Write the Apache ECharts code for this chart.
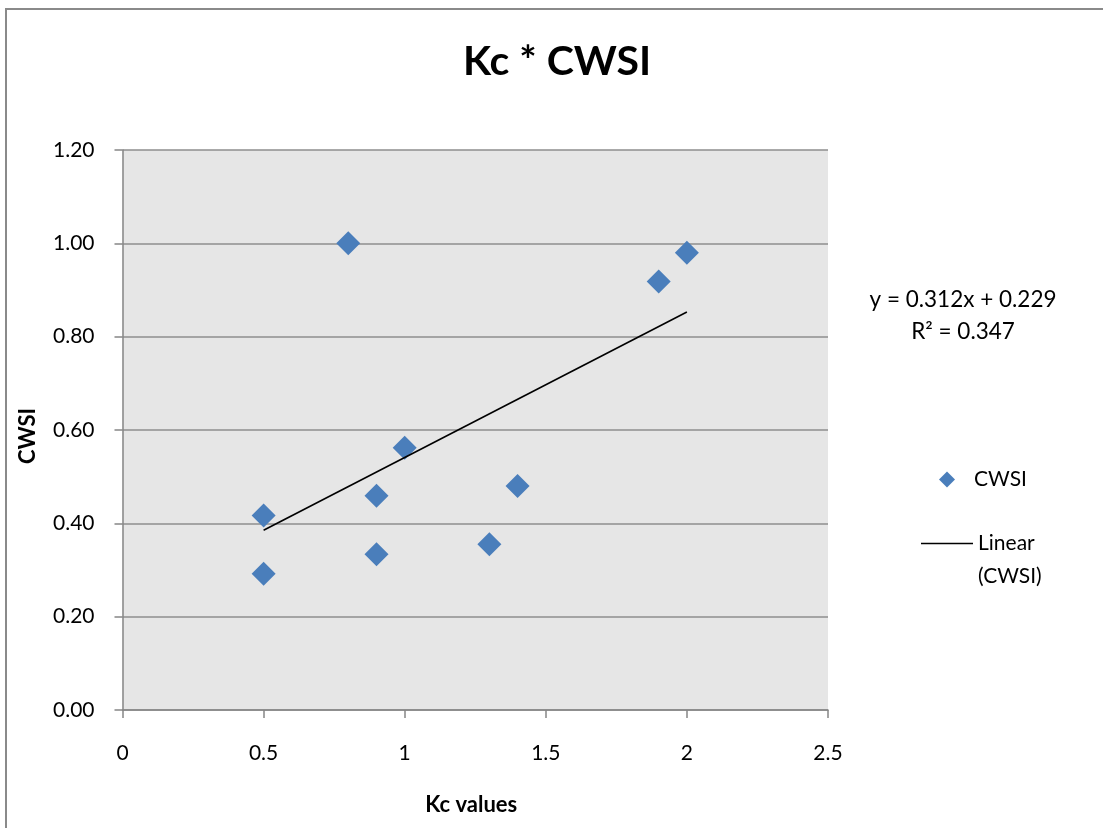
<!DOCTYPE html>
<html>
<head>
<meta charset="utf-8">
<title>Kc * CWSI</title>
<script src="https://cdn.jsdelivr.net/npm/echarts@6/dist/echarts.min.js"></script>
<style>
  html, body { margin: 0; padding: 0; background: #ffffff; }
  #chart { width: 1103px; height: 828px; }
</style>
</head>
<body>
<div id="chart"></div>
<script>
// Crop coefficient (Kc) against crop water stress index (CWSI)
const kcValues   = [0.5, 0.5, 0.8, 0.9, 0.9, 1.0, 1.3, 1.4, 1.9, 2.0];
const cwsiValues = [0.417, 0.292, 1.000, 0.459, 0.334, 0.562, 0.355, 0.480, 0.918, 0.980];

// Linear trendline reported for the CWSI series
const trendSlope = 0.312;
const trendIntercept = 0.229;
const trendR2 = 0.347;

const xTicks = [0, 0.5, 1, 1.5, 2, 2.5];
const yTicks = [0.00, 0.20, 0.40, 0.60, 0.80, 1.00, 1.20];

const FONT = 'Lato, "Open Sans", sans-serif';
const AXIS_GREY = '#868686';

const points = kcValues.map((x, i) => [x, cwsiValues[i]]);
const xLo = Math.min(...kcValues);
const xHi = Math.max(...kcValues);
const trendPoints = [
  [xLo, trendSlope * xLo + trendIntercept],
  [xHi, trendSlope * xHi + trendIntercept]
];

const chart = echarts.init(document.getElementById('chart'), null, { renderer: 'canvas' });

chart.setOption({
  backgroundColor: '#ffffff',
  animation: false,
  title: {
    text: 'Kc * CWSI',
    left: 458,
    top: 36,
    textStyle: { fontFamily: FONT, fontWeight: 'bold', fontSize: 41, color: '#000' }
  },
  grid: {
    left: 122.5, right: 275, top: 150, bottom: 118,
    show: true, backgroundColor: '#e6e6e6', borderWidth: 0,
    containLabel: false
  },
  xAxis: {
    type: 'value',
    min: xTicks[0], max: xTicks[xTicks.length - 1], interval: xTicks[1] - xTicks[0],
    name: 'Kc values',
    nameLocation: 'middle',
    nameGap: 84,
    nameTextStyle: { fontFamily: FONT, fontWeight: 'bold', fontSize: 22, color: '#000', padding: [0, 8, 0, 0] },
    axisLine: { show: true, onZero: false, lineStyle: { color: AXIS_GREY, width: 1.5 } },
    axisTick: { show: true, length: 8, inside: false, lineStyle: { color: AXIS_GREY, width: 1.5 } },
    axisLabel: { fontFamily: FONT, fontSize: 21, color: '#000', margin: 33 },
    splitLine: { show: false }
  },
  yAxis: {
    type: 'value',
    min: yTicks[0], max: yTicks[yTicks.length - 1], interval: yTicks[1] - yTicks[0],
    name: 'CWSI',
    nameLocation: 'middle',
    nameGap: 84,
    nameTextStyle: { fontFamily: FONT, fontWeight: 'bold', fontSize: 22, color: '#000', padding: [0, 0, 0, -12] },
    axisLine: { show: true, onZero: false, lineStyle: { color: AXIS_GREY, width: 1.5 } },
    axisTick: { show: true, length: 8, inside: false, lineStyle: { color: AXIS_GREY, width: 1.5 } },
    axisLabel: {
      fontFamily: FONT, fontSize: 21, color: '#000', margin: 28,
      formatter: v => v.toFixed(2)
    },
    splitLine: { show: true, lineStyle: { color: '#8e8e8e', width: 1.5 } }
  },
  legend: [
    {
      data: [{ name: 'CWSI', icon: 'diamond' }],
      orient: 'vertical',
      left: 934, top: 464,
      itemWidth: 16, itemHeight: 16,
      textStyle: { fontFamily: FONT, fontSize: 21, color: '#000', padding: [0, 0, 0, 14] },
      selectedMode: false
    },
    {
      data: [{ name: 'Linear (CWSI)', icon: 'rect' }],
      orient: 'vertical',
      left: 916, top: 489,
      itemWidth: 52, itemHeight: 1.5,
      itemStyle: { color: '#000' },
      formatter: name => '\n' + name.replace(' ', '\n'),
      textStyle: {
        fontFamily: FONT, fontSize: 21, color: '#000', lineHeight: 33
      },
      selectedMode: false
    }
  ],
  graphic: [
    {
      type: 'rect',
      shape: { x: 6, y: 9, width: 1200, height: 1000 },
      style: { fill: 'none', stroke: '#8a8a8a', lineWidth: 2 },
      silent: true,
      z: 100
    },
    {
      type: 'text',
      x: 963, y: 300,
      style: {
        text: 'y = ' + trendSlope.toFixed(3) + 'x + ' + trendIntercept.toFixed(3),
        font: '22.5px ' + FONT, fill: '#000', align: 'center', verticalAlign: 'middle'
      }
    },
    {
      type: 'text',
      x: 963, y: 332,
      style: {
        text: 'R² = ' + trendR2.toFixed(3),
        font: '22.5px ' + FONT, fill: '#000', align: 'center', verticalAlign: 'middle'
      }
    }
  ],
  series: [
    {
      name: 'CWSI',
      type: 'scatter',
      symbol: 'diamond',
      symbolSize: 24,
      itemStyle: { color: '#4a7ebb', opacity: 1 },
      data: points,
      z: 3
    },
    {
      name: 'Linear (CWSI)',
      type: 'line',
      symbol: 'none',
      lineStyle: { color: '#000', width: 1.6 },
      itemStyle: { color: '#000' },
      data: trendPoints,
      z: 4
    }
  ]
});
</script>
</body>
</html>
